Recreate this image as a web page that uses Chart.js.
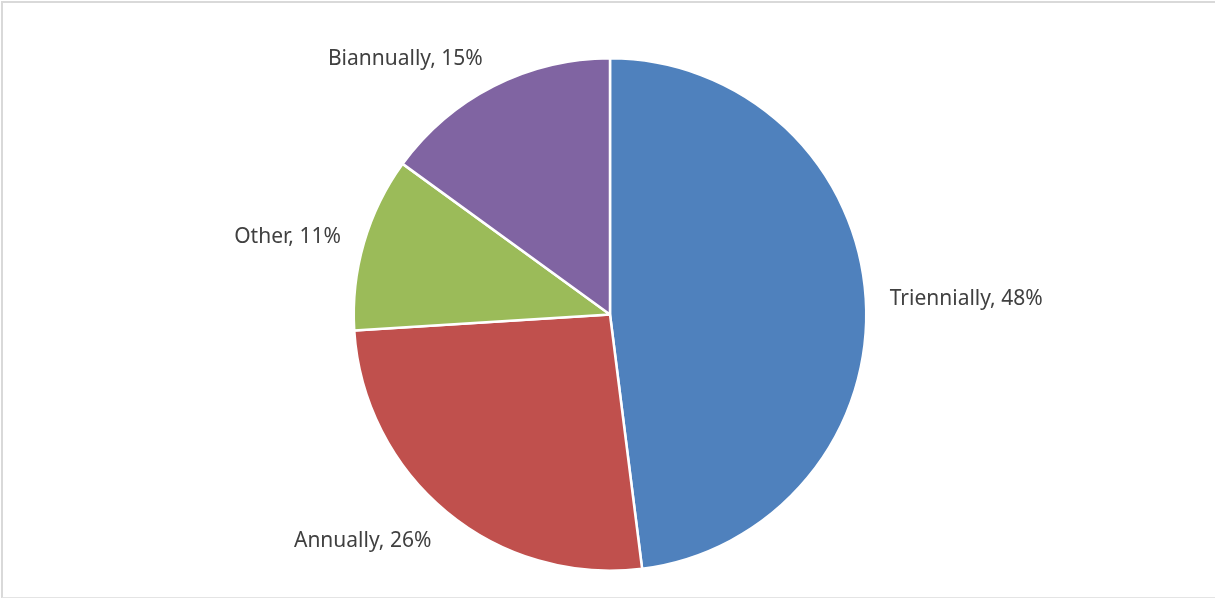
<!DOCTYPE html>
<html>
<head>
<meta charset="utf-8">
<script src="https://cdn.jsdelivr.net/npm/chart.js@4"></script>
<style>
  html, body { margin: 0; padding: 0; background: #fff; }
  #wrap { position: relative; width: 1215px; height: 601px; }
  #frame { position: absolute; left: 1px; top: 1px; width: 1216px; height: 597px;
           border-left: 2px solid #d9d9d9; border-top: 2px solid #d9d9d9; border-bottom: 1px solid #e4e4e4;
           box-sizing: border-box; pointer-events: none; }
</style>
</head>
<body>
<div id="wrap">
  <canvas id="pie-chart" width="1215" height="601"></canvas>
  <div id="frame"></div>
</div>
<script>
const categories = ["Triennially", "Annually", "Other", "Biannually"];
const shares = [48, 26, 11, 15];
const sliceColors = ["#4f81bd", "#c0504d", "#9bbb59", "#8064a2"];

// draws "Name, NN%" just outside each slice
const outsideLabels = {
  id: "outsideLabels",
  afterDatasetsDraw(chart) {
    const ctx = chart.ctx;
    const meta = chart.getDatasetMeta(0);
    ctx.save();
    ctx.font = "21px 'Noto Sans', sans-serif";
    ctx.fillStyle = "#404040";
    ctx.textBaseline = "middle";
    meta.data.forEach((arc, i) => {
      const p = arc.getProps(["x", "y", "startAngle", "endAngle", "outerRadius"], true);
      const mid = (p.startAngle + p.endAngle) / 2;
      const dx = Math.cos(mid), dy = Math.sin(mid);
      const r = p.outerRadius + 24;
      const x = p.x + dx * r;
      const y = p.y + dy * r + dy * 10 + 3;
      ctx.textAlign = dx >= 0 ? "left" : "right";
      ctx.fillText(categories[i] + ", " + shares[i] + "%", x, y);
    });
    ctx.restore();
  }
};

new Chart(document.getElementById("pie-chart"), {
  type: "pie",
  data: {
    labels: categories,
    datasets: [{
      data: shares,
      backgroundColor: sliceColors,
      borderColor: "#ffffff",
      borderWidth: 2.5
    }]
  },
  options: {
    responsive: false,
    animation: false,
    layout: { padding: { top: 57, bottom: 29, left: 352, right: 347 } },
    plugins: {
      legend: { display: false },
      tooltip: { enabled: false }
    }
  },
  plugins: [outsideLabels]
});
</script>
</body>
</html>
